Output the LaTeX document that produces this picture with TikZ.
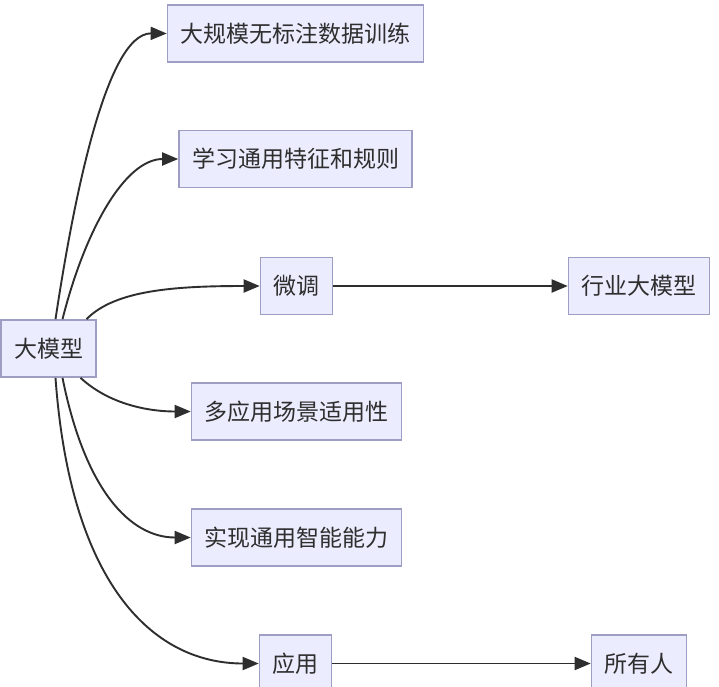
\documentclass[tikz,border=0pt]{standalone}
\usepackage{fontspec}
\newfontfamily\cjk{Noto Sans CJK SC}
\usetikzlibrary{arrows.meta}
\definecolor{boxfill}{HTML}{ECECFF}
\definecolor{boxline}{HTML}{9E9EC4}
\definecolor{ink}{HTML}{2E2E2E}
\tikzset{
  box/.style={draw=boxline, line width=1.6pt, fill=boxfill, text=ink,
    font=\cjk\fontsize{23}{25}\selectfont, inner xsep=13pt, inner ysep=0pt,
    minimum height=57pt, anchor=center},
  link/.style={draw=ink, line width=1.9pt, -{Triangle[length=16pt,width=13pt]}}
}
\begin{document}
\begin{tikzpicture}[x=1pt,y=-1pt]
\useasboundingbox (0,0) rectangle (719,686);
\fill[white] (0,0) rectangle (719,686);
\begin{scope}
\clip (0,0) rectangle (719,686);
\node[box] (m) at (48.5,348.5) {大模型};
\node[box] (a) at (295.5,33.5) {大规模无标注数据训练};
\node[box] (b) at (295.5,159) {学习通用特征和规则};
\node[box] (c) at (296.5,286) {微调};
\node[box] (c2) at (639,286) {行业大模型};
\node[box] (d) at (296.5,411.5) {多应用场景适用性};
\node[box] (e) at (296.5,537.5) {实现通用智能能力};
\node[box] (f) at (295.5,663.5) {应用};
\node[box] (f2) at (639,663.5) {所有人};
\coordinate (in) at (-4,348.5);
\draw[ink, line width=1.8pt] (in) -- (m.west);
\draw[link] ([xshift=7pt]m.north) .. controls (72,210) and (105,33) .. (a.west);
\draw[link] ([xshift=14pt]m.north) .. controls (85,230) and (125,159) .. (b.west);
\draw[link] ([xshift=38pt]m.north) .. controls (115,290) and (175,286) .. (c.west);
\draw[link] (c.east) -- (c2.west);
\draw[link] ([xshift=32pt]m.south) .. controls (110,405) and (150,411.5) .. (d.west);
\draw[link] ([xshift=14pt]m.south) .. controls (85,490) and (130,537.5) .. (e.west);
\draw[link] ([xshift=7pt]m.south) .. controls (70,580) and (150,663.5) .. (f.west);
\draw[link] (f.east) -- (f2.west);
\end{scope}
\end{tikzpicture}
\end{document}
